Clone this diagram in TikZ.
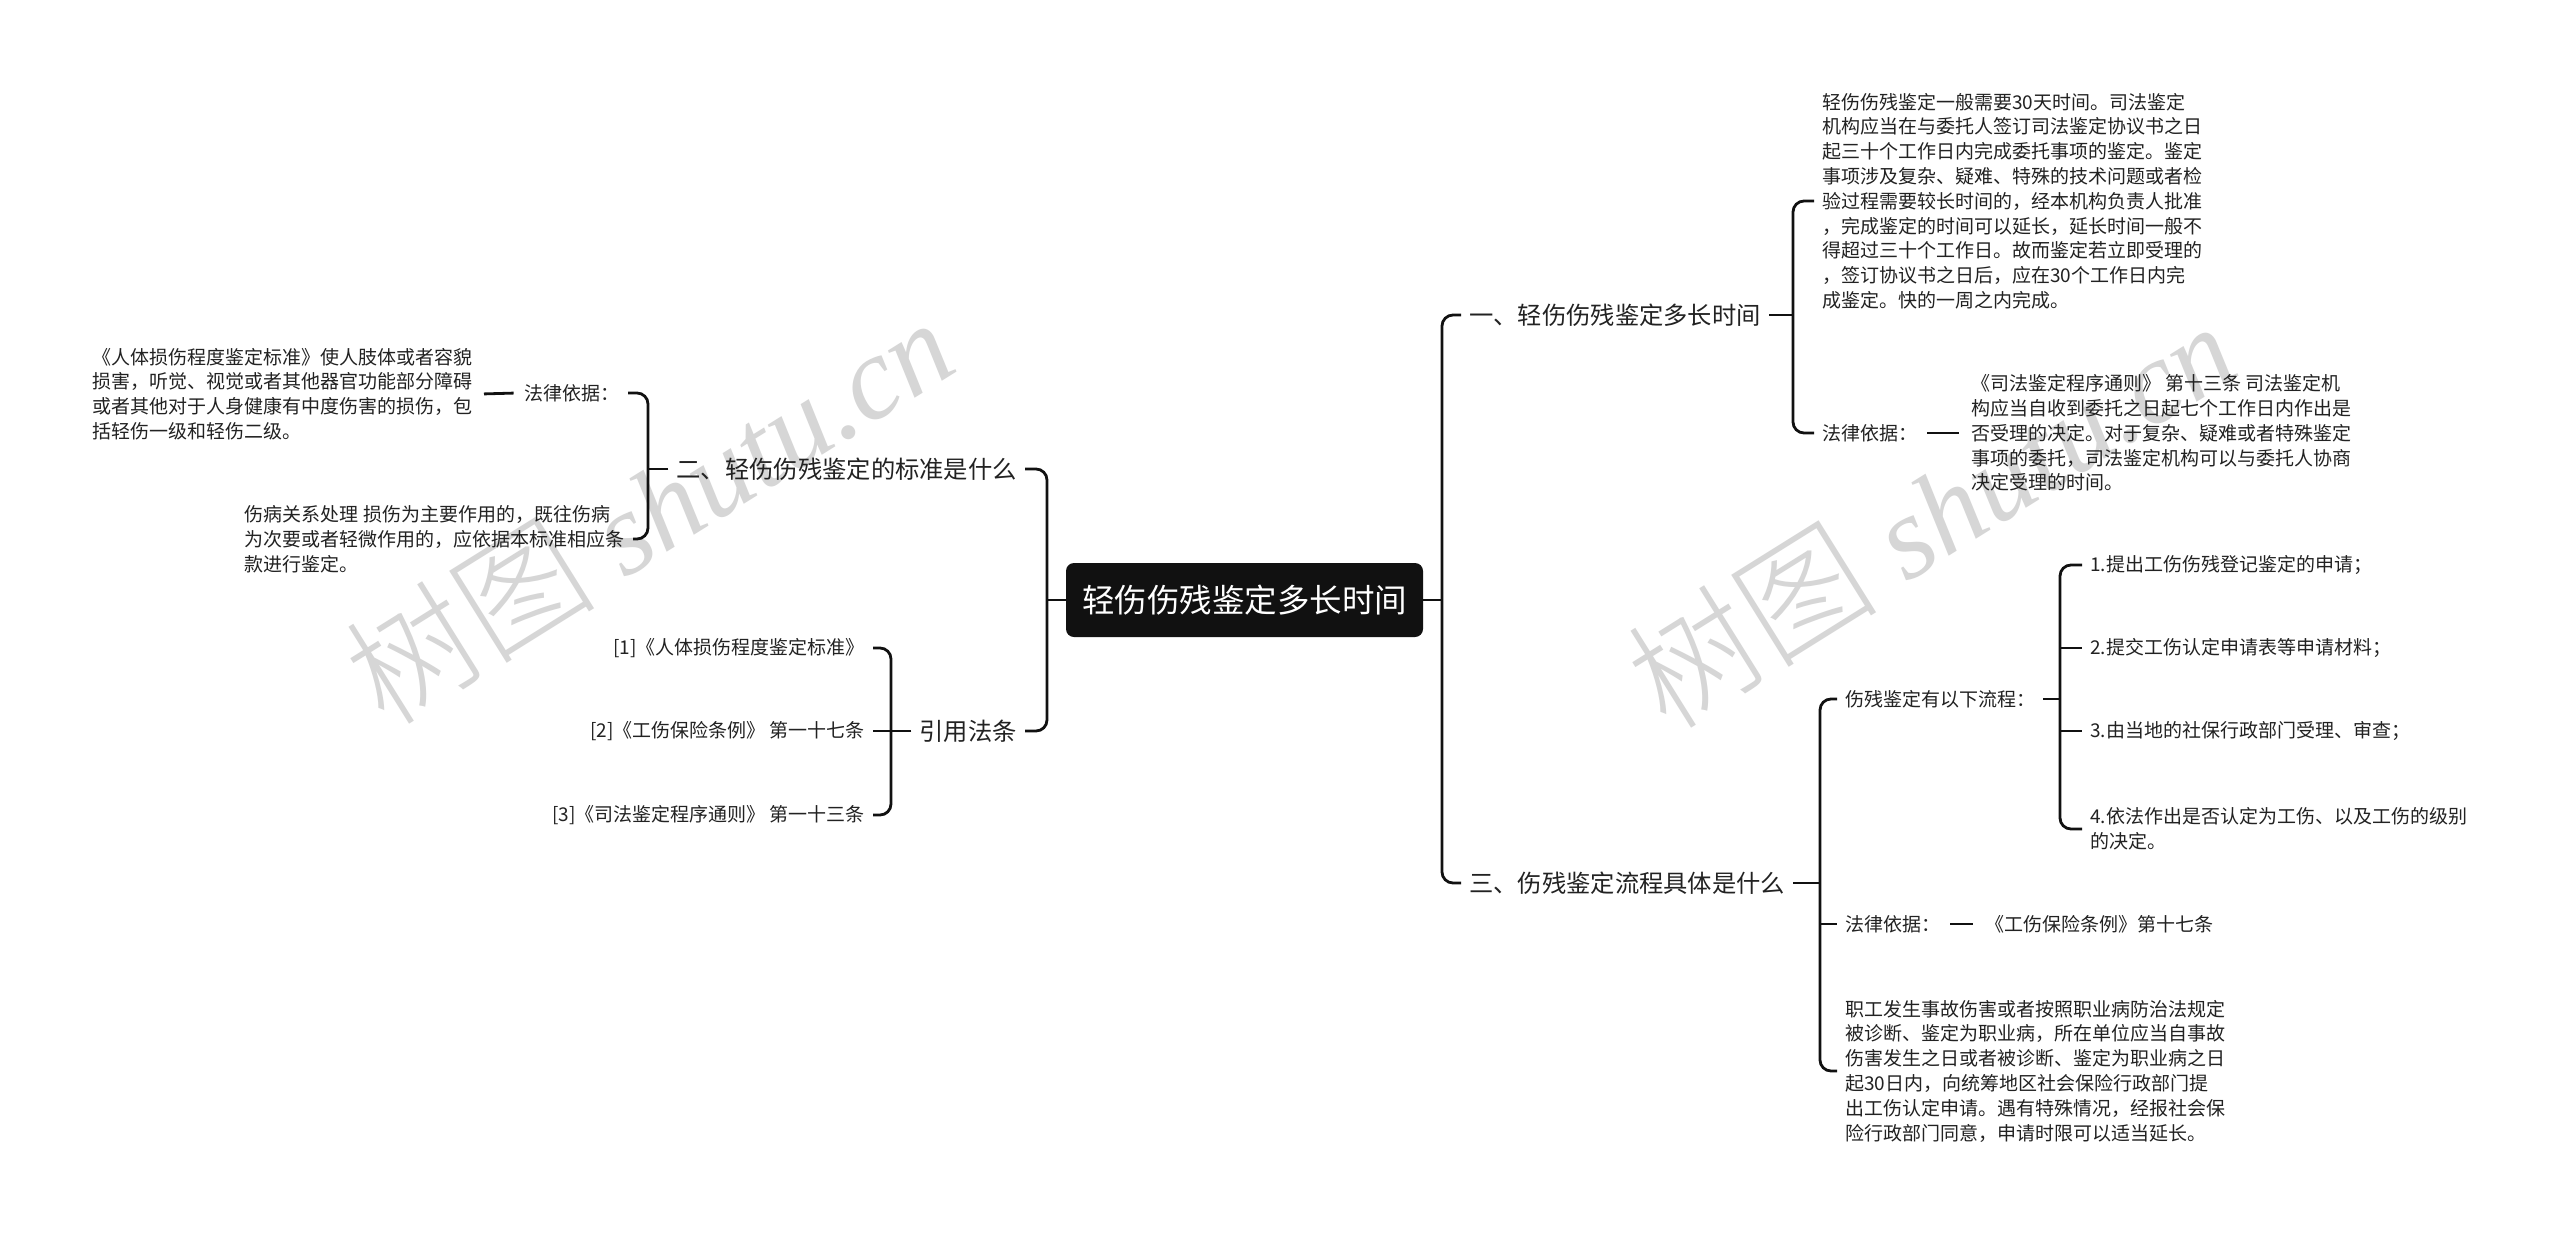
\documentclass[tikz,border=0pt]{standalone}
\usepackage{fontspec}
\setmainfont{Noto Sans CJK SC}
\newfontfamily\cjkwm{Noto Sans CJK SC Light}
\newfontfamily\latwm{Liberation Serif}
\usetikzlibrary{calc}
\definecolor{txt}{HTML}{222222}
\definecolor{linec}{HTML}{111111}
\definecolor{wmc}{HTML}{D6D6D6}
\definecolor{rootfill}{HTML}{111111}
\tikzset{
  conn/.style={line width=2.8pt, draw=linec, rounded corners=11pt},
  small/.style={font=\fontsize{19}{24.8}\selectfont, text=txt, inner xsep=8pt, inner ysep=2pt, align=left},
  mid/.style={font=\fontsize{24.3}{30}\selectfont, text=txt, inner xsep=8pt, inner ysep=2pt},
  rootbox/.style={rectangle, rounded corners=8pt, fill=rootfill, text=white, minimum width=357pt, minimum height=74pt, inner sep=0pt, font=\fontsize{32.5}{36}\selectfont},
  wm/.style={text=wmc, inner sep=0pt}
}
\newcommand{\wmtext}{{\cjkwm\fontsize{126}{126}\selectfont 树图}\hspace{30pt}{\latwm\itshape\fontsize{118}{118}\selectfont shutu.cn}}
\begin{document}
\begin{tikzpicture}[x=1pt,y=-1pt]
\fill[white] (0,0) rectangle (2560,1234);
\useasboundingbox (0,0) rectangle (2560,1234);
% watermarks
\node[wm, rotate=32] (wm1) at (648,508) {\wmtext};
\node[wm, rotate=32] (wm2) at (1930,512) {\wmtext};
% root
\node[rootbox] (root) at (1244.5,600) {轻伤伤残鉴定多长时间};
% level 1
\node[mid, anchor=west] (r1) at (1461,315) {一、轻伤伤残鉴定多长时间};
\node[mid, anchor=west] (r3) at (1461,883) {三、伤残鉴定流程具体是什么};
\node[mid, anchor=east] (l2) at (1025,469) {二、轻伤伤残鉴定的标准是什么};
\node[mid, anchor=east] (l4) at (1025,731) {引用法条};
\coordinate (rt) at (1442,600);
\coordinate (lt) at (1047,600);
\draw[conn] (root.east) -- (rt);
\draw[conn] (r1.west) -- (r1.west -| rt) -- (r3.west -| rt) -- (r3.west);
\draw[conn] (root.west) -- (lt);
\draw[conn] (l2.east) -- (l2.east -| lt) -- (l4.east -| lt) -- (l4.east);
% branch one
\node[small, anchor=west] (pa) at (1814,201) {轻伤伤残鉴定一般需要30天时间。司法鉴定\\机构应当在与委托人签订司法鉴定协议书之日\\起三十个工作日内完成委托事项的鉴定。鉴定\\事项涉及复杂、疑难、特殊的技术问题或者检\\验过程需要较长时间的，经本机构负责人批准\\，完成鉴定的时间可以延长，延长时间一般不\\得超过三十个工作日。故而鉴定若立即受理的\\，签订协议书之日后，应在30个工作日内完\\成鉴定。快的一周之内完成。};
\node[small, anchor=west] (lr1) at (1814,433) {法律依据：};
\node[small, anchor=west] (pb) at (1963,433) {《司法鉴定程序通则》 第十三条 司法鉴定机\\构应当自收到委托之日起七个工作日内作出是\\否受理的决定。对于复杂、疑难或者特殊鉴定\\事项的委托，司法鉴定机构可以与委托人协商\\决定受理的时间。};
\coordinate (b1) at (1793,315);
\draw[conn] (r1.east) -- (b1);
\draw[conn] (pa.west) -- (pa.west -| b1) -- (lr1.west -| b1) -- (lr1.west);
\draw[conn, shorten <=2pt, shorten >=4pt] (lr1.east) -- (pb.west);
% branch three
\coordinate (b3) at (1820,883);
\node[small, anchor=west] (lp) at (1837,699) {伤残鉴定有以下流程：};
\node[small, anchor=west] (lr3) at (1837,924) {法律依据：};
\node[small, anchor=west] (ref3) at (1977,924) {《工伤保险条例》第十七条};
\node[small, anchor=west] (pc) at (1837,1071) {职工发生事故伤害或者按照职业病防治法规定\\被诊断、鉴定为职业病，所在单位应当自事故\\伤害发生之日或者被诊断、鉴定为职业病之日\\起30日内，向统筹地区社会保险行政部门提\\出工伤认定申请。遇有特殊情况，经报社会保\\险行政部门同意，申请时限可以适当延长。};
\draw[conn] (r3.east) -- (b3);
\draw[conn] (lp.west) -- (lp.west -| b3) -- (pc.west -| b3) -- (pc.west);
\draw[conn] (lr3.west -| b3) -- (lr3.west);
\draw[conn, shorten <=2pt, shorten >=4pt] (lr3.east) -- (ref3.west);
\coordinate (b4) at (2060,699);
\node[small, anchor=west] (i1) at (2082,565) {1.提出工伤伤残登记鉴定的申请；};
\node[small, anchor=west] (i2) at (2082,648) {2.提交工伤认定申请表等申请材料；};
\node[small, anchor=west] (i3) at (2082,731) {3.由当地的社保行政部门受理、审查；};
\node[small, anchor=west] (i4) at (2082,829) {4.依法作出是否认定为工伤、以及工伤的级别\\的决定。};
\draw[conn] (lp.east) -- (b4);
\draw[conn] (i1.west) -- (i1.west -| b4) -- (i4.west -| b4) -- (i4.west);
\draw[conn] (i2.west -| b4) -- (i2.west);
\draw[conn] (i3.west -| b4) -- (i3.west);
% branch two
\coordinate (b2) at (648,469);
\node[small, anchor=east] (ll) at (628,393) {法律依据：};
\node[small, anchor=east] (pl1) at (481,394) {《人体损伤程度鉴定标准》使人肢体或者容貌\\损害，听觉、视觉或者其他器官功能部分障碍\\或者其他对于人身健康有中度伤害的损伤，包\\括轻伤一级和轻伤二级。};
\node[small, anchor=east] (pl2) at (633,539) {伤病关系处理 损伤为主要作用的，既往伤病\\为次要或者轻微作用的，应依据本标准相应条\\款进行鉴定。};
\draw[conn] (l2.west) -- (b2);
\draw[conn] (ll.east) -- (ll.east -| b2) -- (pl2.east -| b2) -- (pl2.east);
\draw[conn, shorten <=3pt, shorten >=3pt] (ll.west) -- (pl1.east);
% cited laws
\coordinate (b5) at (891,731);
\node[small, anchor=east] (c1) at (873,648) {[1]《人体损伤程度鉴定标准》};
\node[small, anchor=east] (c2) at (873,731) {[2]《工伤保险条例》 第一十七条};
\node[small, anchor=east] (c3) at (873,815) {[3]《司法鉴定程序通则》 第一十三条};
\draw[conn] (l4.west) -- (b5);
\draw[conn] (c1.east) -- (c1.east -| b5) -- (c3.east -| b5) -- (c3.east);
\draw[conn] (c2.east) -- (c2.east -| b5);
\end{tikzpicture}
\end{document}
